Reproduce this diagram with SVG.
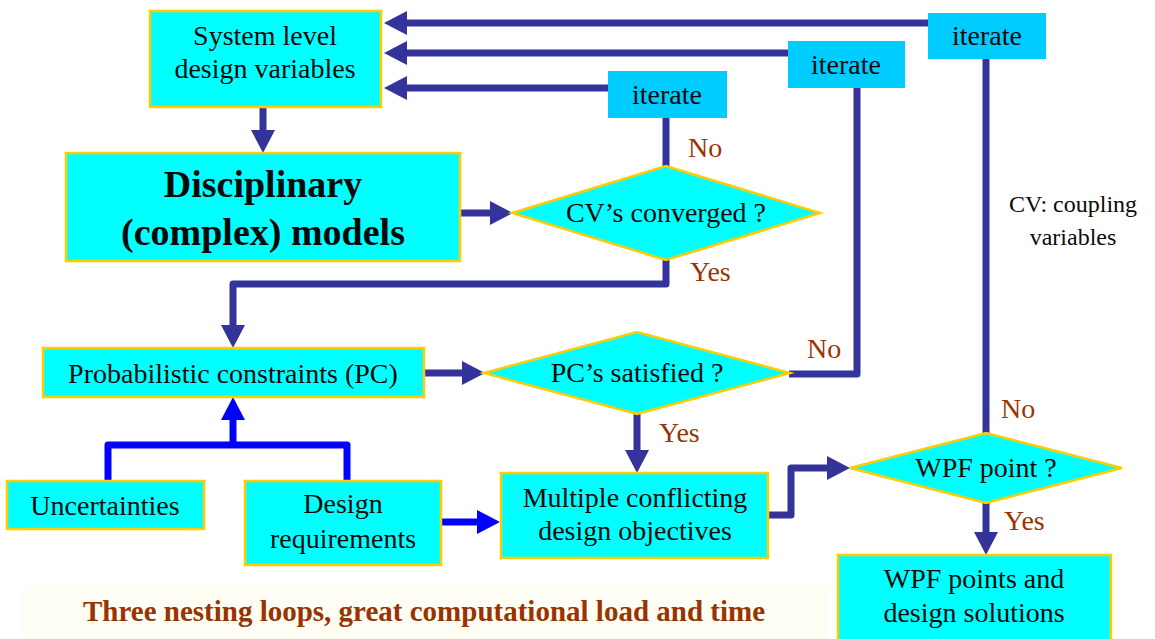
<svg xmlns="http://www.w3.org/2000/svg" width="1155" height="639" viewBox="0 0 1155 639">
  <style>
    .box { fill: #00FFFF; stroke: #FFCC00; stroke-width: 2.5; }
    .iter { fill: #00CCFF; }
    .lbl { font-family: "Liberation Serif", "Times New Roman", serif; font-size: 28px; fill: #993300; }
    .nt { font-family: "Liberation Serif", "Times New Roman", serif; font-size: 28px; fill: #0a0a0a; text-anchor: middle; }
    .flow { fill: none; stroke: #333399; stroke-width: 7; stroke-linejoin: round; }
    .feed { fill: none; stroke: #0000FF; stroke-width: 7; stroke-linejoin: round; }
    .title { font-family: "Liberation Serif", "Times New Roman", serif; font-size: 29px; font-weight: bold; fill: #993300; text-anchor: middle; }
  </style>
  <defs>
    <marker id="arrDark" markerUnits="userSpaceOnUse" markerWidth="24" markerHeight="24" refX="0" refY="12" orient="auto">
      <path d="M0,0 L23,12 L0,24 Z" fill="#333399"/>
    </marker>
    <marker id="arrBlue" markerUnits="userSpaceOnUse" markerWidth="24" markerHeight="24" refX="0" refY="12" orient="auto">
      <path d="M0,0 L23,12 L0,24 Z" fill="#0000FF"/>
    </marker>
  </defs>

  <rect width="1155" height="639" fill="#FFFFFF"/>

  <!-- caption band -->
  <g id="caption">
    <rect x="22" y="587" width="806" height="52" fill="#FFFEF5"/>
    <text class="title" x="424" y="621">Three nesting loops, great computational load and time</text>
  </g>

  <!-- connectors -->
  <g id="connectors">
    <path class="flow" d="M928,23 H407" marker-end="url(#arrDark)"/>
    <path class="flow" d="M788,53 H407" marker-end="url(#arrDark)"/>
    <path class="flow" d="M608,88 H407" marker-end="url(#arrDark)"/>
    <path class="flow" d="M263,107 V130" marker-end="url(#arrDark)"/>
    <path class="flow" d="M460,213 H490" marker-end="url(#arrDark)"/>
    <path class="flow" d="M666,167 V118"/>
    <path class="flow" d="M666,259 V284 H233 V325" marker-end="url(#arrDark)"/>
    <path class="flow" d="M424,373 H462" marker-end="url(#arrDark)"/>
    <path class="flow" d="M789,374 H857 V88"/>
    <path class="flow" d="M637,413 V450" marker-end="url(#arrDark)"/>
    <path class="flow" d="M768,515 H791 V468 H827" marker-end="url(#arrDark)"/>
    <path class="flow" d="M986,434 V59"/>
    <path class="flow" d="M986,502 V532" marker-end="url(#arrDark)"/>
    <path class="feed" d="M108,481 V445 H347 V481"/>
    <path class="feed" d="M233,445 V420" marker-end="url(#arrBlue)"/>
    <path class="feed" d="M441,522 H477" marker-end="url(#arrBlue)"/>
  </g>

  <!-- branch labels -->
  <g id="labels">
    <text class="lbl" x="688" y="157">No</text>
    <text class="lbl" x="690" y="281">Yes</text>
    <text class="lbl" x="807" y="358">No</text>
    <text class="lbl" x="659" y="442">Yes</text>
    <text class="lbl" x="1001" y="418">No</text>
    <text class="lbl" x="1004" y="530">Yes</text>
  </g>

  <g id="system-vars">
    <rect class="box" x="150" y="11" width="231" height="96"/>
    <text class="nt" x="265" y="45">System level</text>
    <text class="nt" x="265" y="78">design variables</text>
  </g>

  <g id="disciplinary-models">
    <rect class="box" x="66" y="153" width="394" height="108"/>
    <text class="nt" x="263" y="197" font-size="38" font-weight="bold" style="font-size:38px;font-weight:bold">Disciplinary</text>
    <text class="nt" x="263" y="245" font-size="38" font-weight="bold" style="font-size:38px;font-weight:bold">(complex) models</text>
  </g>

  <g id="cv-converged">
    <polygon class="box" points="512,213 666,166 820,213 666,260"/>
    <text class="nt" x="666" y="222">CV’s converged ?</text>
  </g>

  <g id="iterate-inner">
    <rect class="iter" x="608" y="71" width="119" height="47"/>
    <text class="nt" x="667" y="104">iterate</text>
  </g>

  <g id="iterate-middle">
    <rect class="iter" x="788" y="41" width="117" height="47"/>
    <text class="nt" x="846" y="74">iterate</text>
  </g>

  <g id="iterate-outer">
    <rect class="iter" x="928" y="13" width="118" height="46"/>
    <text class="nt" x="987" y="45">iterate</text>
  </g>

  <g id="prob-constraints">
    <rect class="box" x="43" y="348" width="381" height="49"/>
    <text class="nt" x="233" y="383">Probabilistic constraints (PC)</text>
  </g>

  <g id="pc-satisfied">
    <polygon class="box" points="484,373 637,332 790,373 637,414"/>
    <text class="nt" x="637" y="382">PC’s satisfied ?</text>
  </g>

  <g id="uncertainties">
    <rect class="box" x="7" y="481" width="197" height="48"/>
    <text class="nt" x="105" y="515">Uncertainties</text>
  </g>

  <g id="design-requirements">
    <rect class="box" x="245" y="481" width="196" height="84"/>
    <text class="nt" x="343" y="513">Design</text>
    <text class="nt" x="343" y="548">requirements</text>
  </g>

  <g id="objectives">
    <rect class="box" x="501" y="473" width="267" height="85"/>
    <text class="nt" x="635" y="507">Multiple conflicting</text>
    <text class="nt" x="635" y="540">design objectives</text>
  </g>

  <g id="wpf-point">
    <polygon class="box" points="850,468 986,433 1122,468 986,503"/>
    <text class="nt" x="986" y="477">WPF point ?</text>
  </g>

  <g id="wpf-solutions">
    <rect class="box" x="838" y="555" width="273" height="90"/>
    <text class="nt" x="974" y="588">WPF points and</text>
    <text class="nt" x="974" y="622">design solutions</text>
  </g>

  <g id="cv-note">
    <text class="nt" x="1073" y="212" style="font-size:24px">CV: coupling</text>
    <text class="nt" x="1073" y="245" style="font-size:24px">variables</text>
  </g>
</svg>
